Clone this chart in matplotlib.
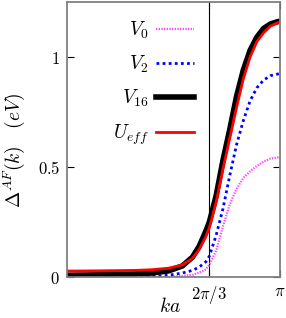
import numpy as np
import matplotlib
matplotlib.use("Agg")
import matplotlib.pyplot as plt

plt.rcParams['mathtext.fontset'] = 'cm'
plt.rcParams['font.family'] = 'serif'
plt.rcParams['font.serif'] = ['cmr10', 'DejaVu Serif']
plt.rcParams['axes.formatter.use_mathtext'] = True

ka_v16 = [0, 0.5, 1.0, 1.25, 1.5, 1.7, 1.85, 1.95, 2.05, 2.1, 2.2, 2.3, 2.4, 2.5, 2.6, 2.7, 2.8, 2.9, 3.0, 3.1, np.pi]
v16 = [0.008, 0.01, 0.014, 0.018, 0.028, 0.05, 0.09, 0.14, 0.21, 0.25, 0.37, 0.53, 0.67, 0.82, 0.94, 1.03, 1.09, 1.13, 1.15, 1.16, 1.163]

ka_ueff = [0, 0.5, 1.0, 1.25, 1.5, 1.7, 1.85, 1.95, 2.05, 2.1, 2.2, 2.3, 2.4, 2.5, 2.6, 2.7, 2.8, 2.9, 3.0, 3.1, np.pi]
ueff = [0.027, 0.028, 0.03, 0.033, 0.04, 0.055, 0.085, 0.125, 0.185, 0.225, 0.34, 0.49, 0.63, 0.77, 0.9, 1.0, 1.07, 1.11, 1.14, 1.155, 1.158]

ka_v2 = [0, 1.0, 1.3, 1.5, 1.7, 1.85, 1.95, 2.05, 2.1, 2.2, 2.3, 2.4, 2.5, 2.6, 2.7, 2.8, 2.9, 3.0, np.pi]
v2 = [0.0, 0.0, 0.003, 0.008, 0.018, 0.03, 0.045, 0.07, 0.095, 0.19, 0.31, 0.46, 0.6, 0.71, 0.8, 0.86, 0.895, 0.915, 0.925]

ka_v0 = [0, 1.5, 1.7, 1.85, 1.95, 2.05, 2.1, 2.2, 2.3, 2.4, 2.5, 2.6, 2.7, 2.8, 2.9, 3.0, np.pi]
v0 = [0.0, 0.0, 0.005, 0.01, 0.02, 0.035, 0.055, 0.12, 0.23, 0.33, 0.4, 0.45, 0.48, 0.505, 0.525, 0.538, 0.545]

xticks = [2*np.pi/3, np.pi]
xticklabels = [r'$2\pi/3$', r'$\pi$']
yticks = [0, 0.5, 1]
yticklabels = [r'$0$', r'$0.5$', r'$1$']

fig = plt.figure(figsize=(2.86, 3.18), dpi=100)
ax = fig.add_axes([67/286, 41/318, 213/286, 275/318])

ax.axvline(2*np.pi/3, color='black', lw=0.8)
ax.plot(ka_v0, v0, color='#ff44ff', lw=1.6, ls=(0, (0.6, 0.6)), label=r'$V_0$')
ax.plot(ka_v2, v2, color='#0000ff', lw=2.0, ls=(0, (1, 1.2)), label=r'$V_2$')
ax.plot(ka_v16, v16, color='black', lw=4.0, label=r'$V_{16}$')
ax.plot(ka_ueff, ueff, color='#ff0000', lw=2.0, label=r'$U_{eff}$')

ax.set_xlim(0, np.pi)
ax.set_ylim(0, 1.25)
ax.set_xticks(xticks)
ax.set_xticklabels(xticklabels, fontsize=12)
ax.set_yticks(yticks)
ax.set_yticklabels(yticklabels, fontsize=12)
ax.tick_params(direction='in', top=True, right=True, length=5, width=0.8, pad=5)
for s in ax.spines.values():
    s.set_color('#808080')
    s.set_linewidth(1.3)

leg = ax.legend(loc='upper right', bbox_to_anchor=(0.662, 0.985), frameon=False,
                markerfirst=False, fontsize=14, handlelength=1.95,
                handletextpad=0.4, labelspacing=0.66, borderaxespad=0.3)

fig.text(14/286, 1 - 150/318, r'$\Delta^{AF}(k)\quad(eV)$', rotation=90,
         ha='center', va='center', fontsize=14)
fig.text(170/286, 1 - 306/318, r'$ka$', ha='center', va='center', fontsize=14)

fig.savefig('out.png', dpi=100)
